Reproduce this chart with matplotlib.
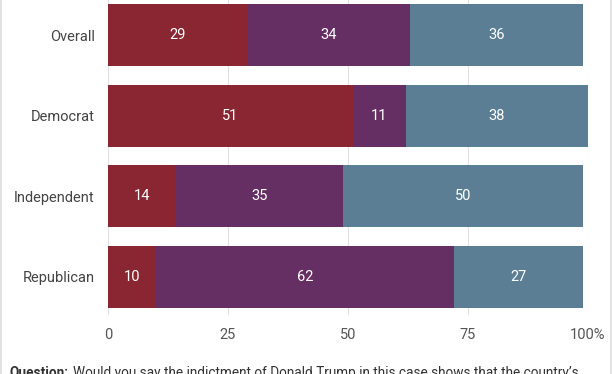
import matplotlib
matplotlib.use("Agg")
import matplotlib.pyplot as plt
from matplotlib.patches import Rectangle

categories = ["Overall", "Democrat", "Independent", "Republican"]
series_a = [29, 51, 14, 10]
series_b = [34, 11, 35, 62]
series_c = [36, 38, 50, 27]
tick_values = [0, 25, 50, 75, 100]
tick_labels = ["0", "25", "50", "75", "100%"]
question = "Would you say the indictment of Donald Trump in this case shows that the country\u2019s"

colors = ["#8a2631", "#662f63", "#5b7e94"]
plt.rcParams["font.family"] = ["Roboto", "DejaVu Sans"]

W, H = 612, 374
fig = plt.figure(figsize=(W / 100, H / 100), dpi=100)
ax = fig.add_axes([108 / W, 59 / H, 480 / W, 315 / H])

ypos = list(range(len(categories)))
left = [0] * len(categories)
for vals, col in zip([series_a, series_b, series_c], colors):
    ax.barh(ypos, vals, left=left, height=0.77, color=col, zorder=3)
    for y, l, v in zip(ypos, left, vals):
        ax.text(l + v / 2, y, str(v), ha="center", va="center",
                color="white", fontsize=10.5, zorder=4)
    left = [a + b for a, b in zip(left, vals)]

ax.set_xlim(0, 100)
ax.set_ylim(3.478, -0.435)
ax.set_yticks(ypos)
ax.set_yticklabels(categories, fontsize=10.5, color="#444444")
ax.set_xticks(tick_values)
ax.set_xticklabels(tick_labels, fontsize=10.5, color="#555555")
ax.tick_params(axis="y", length=0, pad=9.5)
ax.tick_params(axis="x", length=0, pad=9.5)
for s in ax.spines.values():
    s.set_visible(False)
ax.grid(axis="x", color="#e0e0e0", linewidth=0.8, zorder=0)
ax.set_axisbelow(True)

# figure border
fig.patches.append(Rectangle((1 / W, -0.01), (W - 2.5) / W, 1.02,
                             transform=fig.transFigure, fill=False,
                             edgecolor="#dcdcdc", linewidth=1.2))

t1 = fig.text(10 / W, 8.5 / H, "Question:", fontweight="bold", fontsize=9.8,
              color="#333333", va="top", ha="left")
fig.canvas.draw()
bb = t1.get_window_extent()
fig.text(bb.x1 / W + 4 / W, 8.5 / H, question, fontsize=9.8, color="#333333",
         va="top", ha="left")

fig.savefig("out.png", dpi=100)
